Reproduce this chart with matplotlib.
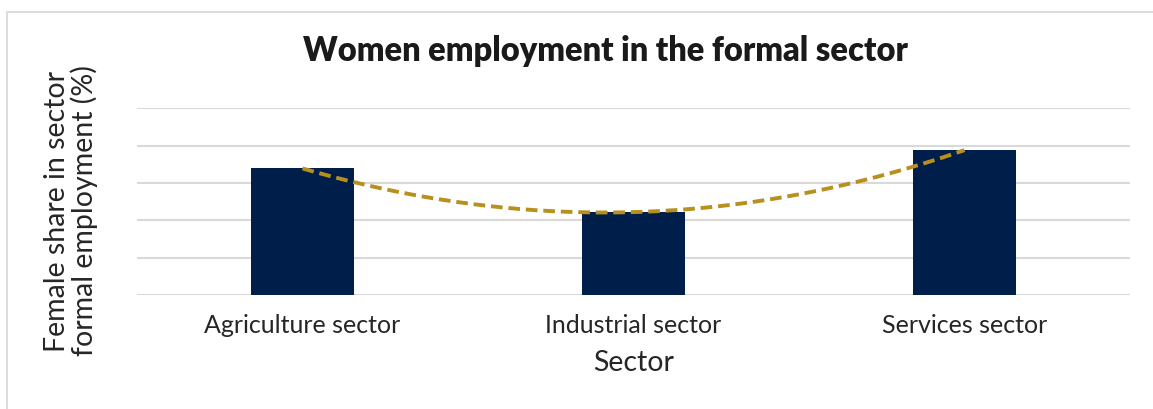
import numpy as np
import matplotlib
matplotlib.use("Agg")
import matplotlib.pyplot as plt
from matplotlib.patches import Rectangle

# Data
sectors = ["Agriculture sector", "Industrial sector", "Services sector"]
female_share = [33.9, 22.2, 38.8]
grid_levels = [0, 10, 20, 30, 40, 50]

W, H = 1153, 409
plt.rcParams["font.family"] = ["Lato", "DejaVu Sans"]

fig = plt.figure(figsize=(W / 100, H / 100), dpi=100)

# Chart-area frame (light gray)
frame = Rectangle((7 / W, -0.2), 2.0, (H - 11.5) / H + 0.2,
                  transform=fig.transFigure, fill=False,
                  edgecolor="#D9D9D9", linewidth=1.3, clip_on=False)
fig.add_artist(frame)

ax = fig.add_axes([137 / W, (H - 295) / H, 993 / W, (295 - 108.3) / H])

x = np.arange(len(sectors))
ax.bar(x, female_share, width=0.3125, color="#001E4A", zorder=3)

# Second-order polynomial trendline
coef = np.polyfit(x, female_share, 2)
xs = np.linspace(x[0], x[-1], 300)
ax.plot(xs, np.polyval(coef, xs), color="#B8901E", linewidth=2.8,
        linestyle=(0, (3.0, 1.5)), zorder=4, dash_capstyle="butt")

ax.set_xlim(-0.5, len(sectors) - 0.5)
ax.set_ylim(grid_levels[0], grid_levels[-1])
ax.set_yticks(grid_levels)
ax.set_yticklabels([])
ax.tick_params(axis="y", length=0)
ax.grid(axis="y", color="#D9D9D9", linewidth=1.5, zorder=0)
ax.set_axisbelow(True)
for s in ax.spines.values():
    s.set_visible(False)

ax.set_xticks(x)
ax.set_xticklabels(sectors, fontsize=18, color="#262626")
ax.tick_params(axis="x", length=0, pad=14)
ax.set_xlabel("Sector", fontsize=20.5, color="#262626", labelpad=9)

fig.text(71 / W, (H - 211) / H, "Female share in sector\nformal employment (%)",
         rotation=90, ha="center", va="center", multialignment="center",
         fontsize=20.5, color="#262626", linespacing=1.05)

fig.text(605.5 / W, (H - 51) / H, "Women employment in the formal sector",
         ha="center", va="center", fontsize=23.5, fontweight="heavy",
         color="#1A1A1A")

fig.savefig("out.png", dpi=100)
